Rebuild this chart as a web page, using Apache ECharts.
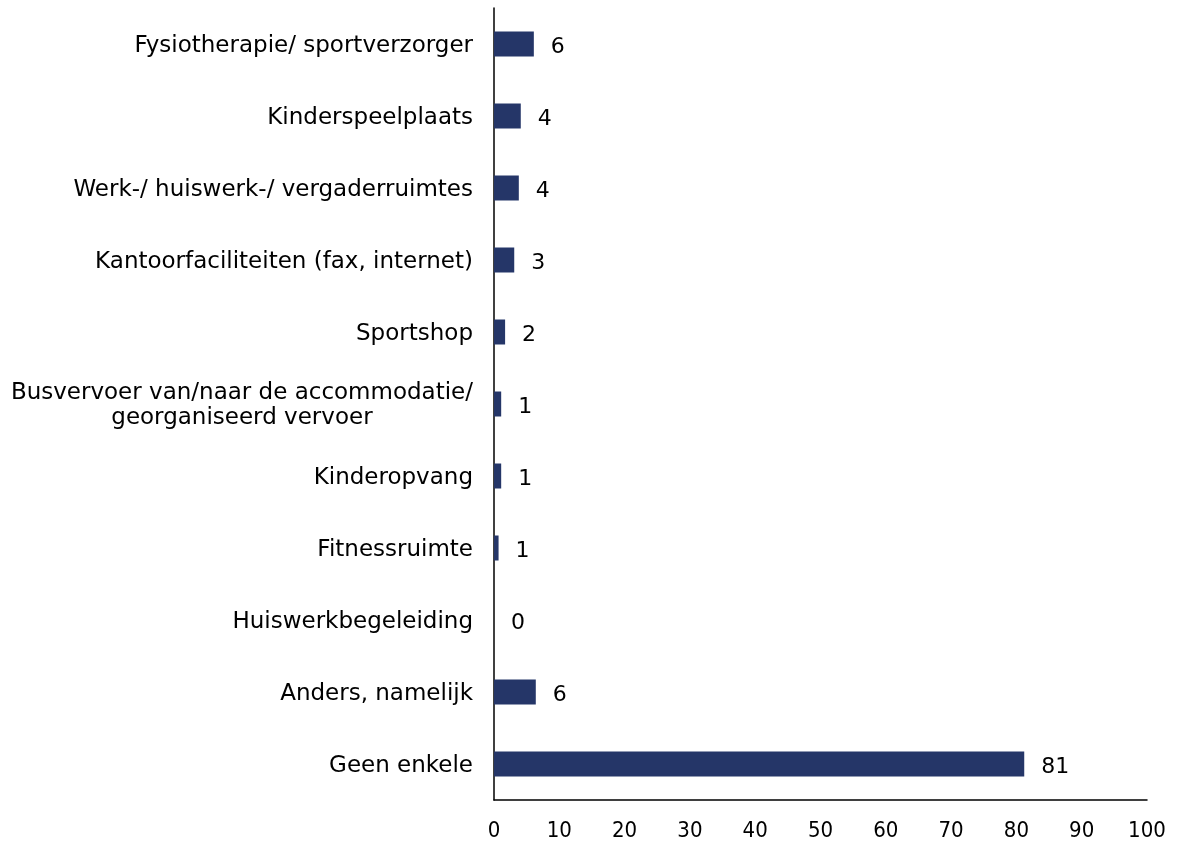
<!DOCTYPE html>
<html>
<head>
<meta charset="utf-8">
<script src="https://cdn.jsdelivr.net/npm/echarts@6/dist/echarts.min.js"></script>
<style>html,body{margin:0;padding:0;background:#fff}#c{width:1181px;height:843px}</style>
</head>
<body>
<div id="c"></div>
<script>
const categories = [
  'Fysiotherapie/ sportverzorger',
  'Kinderspeelplaats',
  'Werk-/ huiswerk-/ vergaderruimtes',
  'Kantoorfaciliteiten (fax, internet)',
  'Sportshop',
  'Busvervoer van/naar de accommodatie/\ngeorganiseerd vervoer',
  'Kinderopvang',
  'Fitnessruimte',
  'Huiswerkbegeleiding',
  'Anders, namelijk',
  'Geen enkele'
];
const values = [6.1, 4.1, 3.8, 3.1, 1.7, 1.1, 1.1, 0.7, 0, 6.4, 81.2];
const xTicks = [0, 10, 20, 30, 40, 50, 60, 70, 80, 90, 100];

const chart = echarts.init(document.getElementById('c'));
chart.setOption({
  animation: false,
  grid: { left: 494, right: 34, top: 8, bottom: 43, containLabel: false },
  xAxis: {
    type: 'value', min: xTicks[0], max: xTicks[xTicks.length - 1], interval: 10,
    axisLine: { show: true, lineStyle: { color: '#000', width: 1.5 } },
    axisTick: { show: false },
    splitLine: { show: false },
    axisLabel: { color: '#000', fontSize: 22, fontFamily: '"Liberation Sans Narrow", "DejaVu Sans Condensed", sans-serif', margin: 20 }
  },
  yAxis: {
    type: 'category', data: categories, inverse: true,
    axisLine: { show: true, lineStyle: { color: '#000', width: 1.5 } },
    axisTick: { show: false },
    axisLabel: {
      color: '#000', fontSize: 23, fontFamily: '"DejaVu Sans", sans-serif', margin: 21,
      lineHeight: 25, padding: [4, 0, 0, 0],
      formatter: function (v) {
        return v.split('\n').map(s => '{c|' + s + '}').join('\n');
      },
      rich: { c: { align: 'center', color: '#000', fontSize: 23, fontFamily: '"DejaVu Sans", sans-serif', lineHeight: 25 } }
    }
  },
  series: [{
    type: 'bar', data: values, barWidth: 25,
    itemStyle: { color: '#253668' },
    label: {
      show: true, position: 'right', distance: 17, color: '#000', fontSize: 22,
      fontFamily: '"DejaVu Sans", sans-serif', offset: [0, 3],
      formatter: p => Math.round(p.value)
    }
  }]
});
</script>
</body>
</html>
